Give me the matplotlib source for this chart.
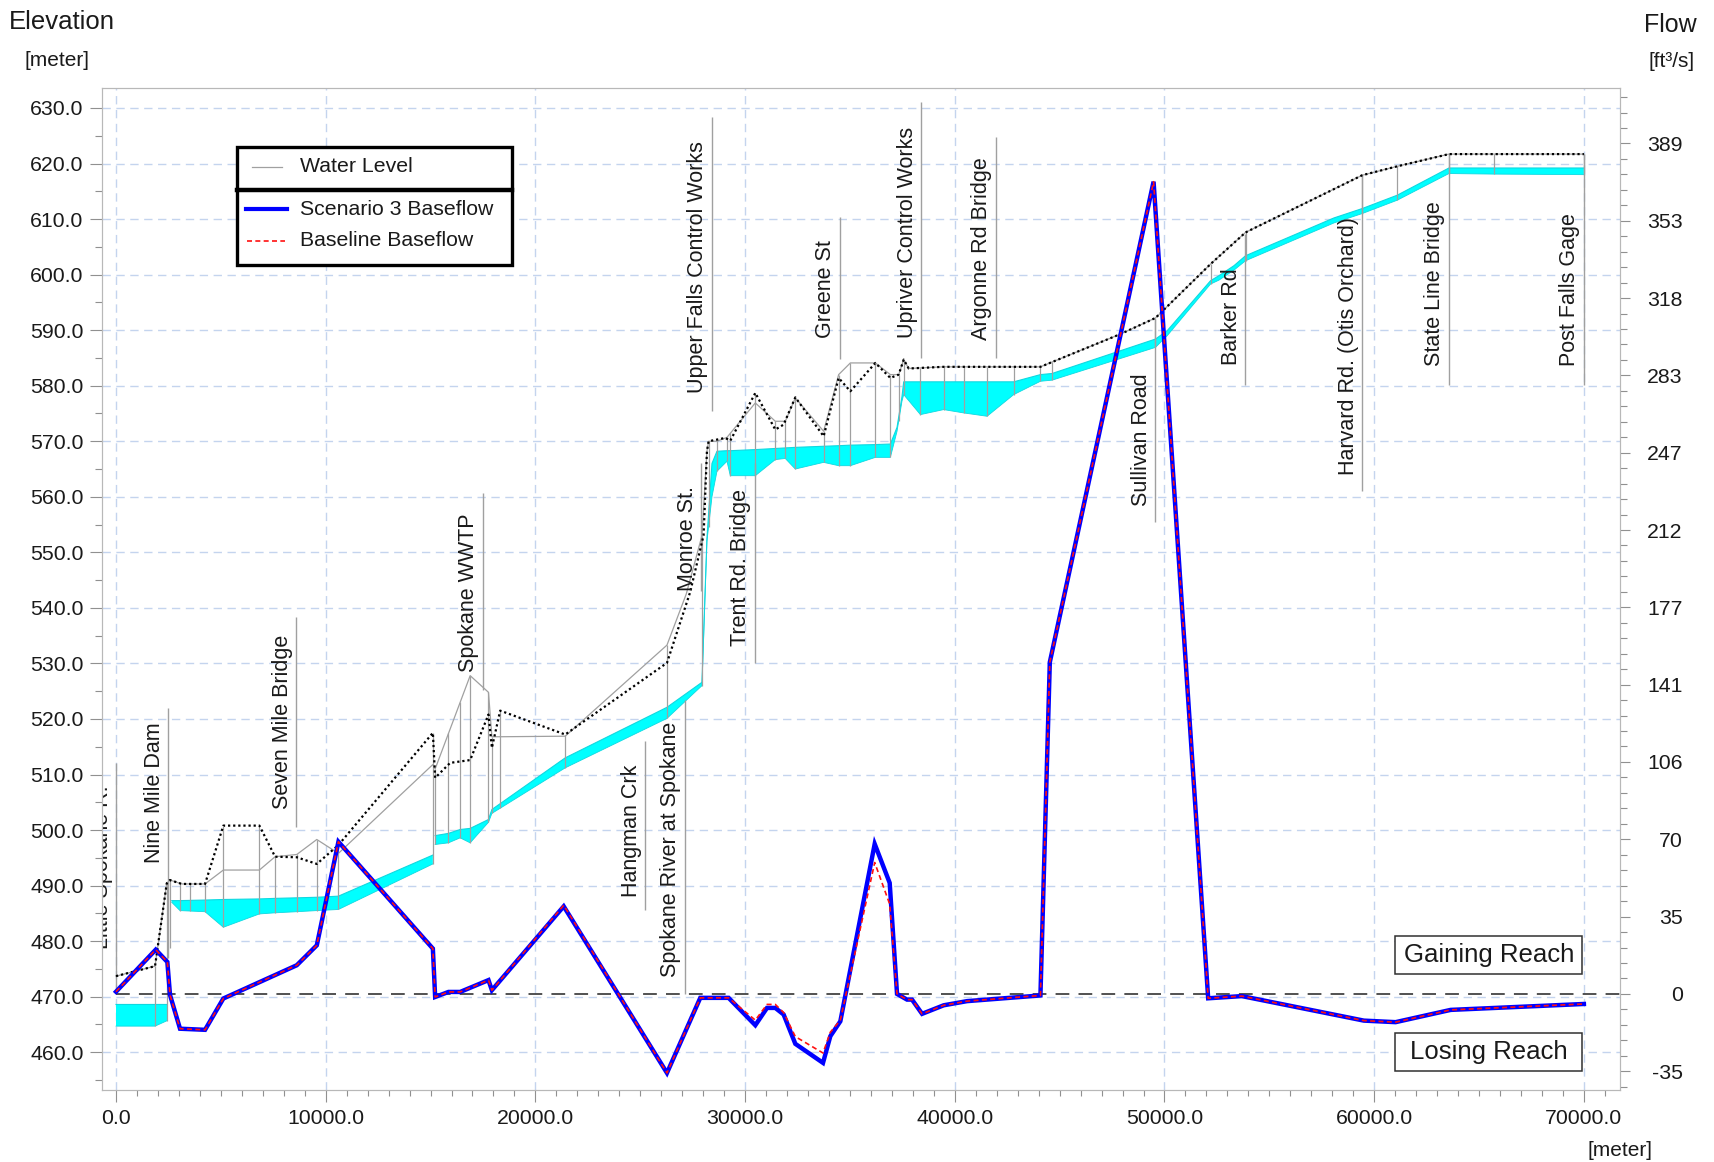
import numpy as np
import matplotlib
matplotlib.use("Agg")
import matplotlib.pyplot as plt
from matplotlib.patches import Rectangle
from matplotlib.ticker import MultipleLocator, FixedLocator

plt.rcParams['font.family'] = ['Liberation Sans', 'DejaVu Sans']

# ---------------- data ----------------
# top-of-section profile (dotted black)
bank_x = [0, 1861, 2419, 2576, 3133, 4246, 5119, 6838, 7586, 8621, 9575, 10606, 15110, 15219,
          15935, 16889, 17762, 17925, 18320, 21422, 26274, 27385, 28021, 28180, 28259, 29056,
          29294, 30487, 31440, 31837, 32395, 33745, 34461, 35019, 36212, 36927, 37325, 37563,
          37802, 39470, 44084, 47900, 49570, 52195, 53865, 59432, 61100, 63564, 70000]
bank_z = [473.7, 475.5, 490.4, 491.0, 490.3, 490.3, 500.8, 500.8, 495.2, 495.1, 493.9, 497.3,
          517.5, 509.4, 512.1, 512.6, 520.8, 514.8, 521.5, 517.2, 530.1, 542.9, 553.1, 568.2,
          570.0, 570.6, 570.1, 578.7, 572.1, 573.0, 577.9, 570.9, 581.4, 579.0, 584.1, 581.4,
          582.0, 584.7, 583.1, 583.4, 583.4, 589.3, 592.2, 601.9, 607.6, 617.9, 619.5, 621.7,
          621.7]

# water level line (thin grey)
wl_x = [0, 1861, 2419, 2576, 3133, 4246, 5119, 6838, 7586, 8621, 9575, 10606, 15110, 15219,
        16889, 17762, 17925, 18320, 21422, 26274, 27194, 27943, 28180, 28259, 28659, 29136,
        30487, 31440, 31917, 32395, 33745, 34461, 35019, 36212, 36927, 37325, 37563, 37802,
        39470, 44084, 47900, 49570, 52195, 53865, 59432, 61100, 63564, 70000]
wl_z = [473.7, 475.5, 490.4, 491.0, 490.3, 490.3, 492.8, 492.8, 495.2, 495.6, 498.3, 495.8,
        511.8, 511.0, 527.8, 524.8, 516.8, 516.8, 516.9, 533.3, 542.5, 553.0, 568.2, 570.0,
        570.0, 570.7, 576.9, 573.6, 573.6, 577.8, 571.8, 582.0, 584.1, 584.1, 582.0, 582.0,
        584.7, 583.1, 583.4, 583.4, 589.3, 592.2, 601.9, 607.6, 617.9, 619.5, 621.7, 621.7]

# cyan water body: surface and bed (NaN separates reaches)
nan = np.nan
river_x = [0, 1861, 2448, nan, 2657, 3053, 4246, 5119, 6838, 7586, 8621, 9575, 10606, 15110, nan,
           15219, 15854, 16412, 16889, 17762, 17925, 21422, 26274, 27943, 28180, 28420, 28659,
           29136, 29294, 30487, 31440, 31917, 32395, 33745, 34461, 35019, 36212, 36927, 37245,
           37480, 37563, 38360, 39470, 40426, 41540, 42810, 44084, 44640, 49570, 50128, 52195,
           52593, 53310, 53865, 58077, 59432, 61100, 63564, 65700, 70000]
river_top = [468.6, 468.6, 468.6, nan, 487.3, 487.3, 487.4, 487.5, 487.6, 487.7, 487.8, 487.9,
             488.1, 495.5, nan, 499.0, 499.4, 500.1, 500.3, 501.9, 503.7, 513.0, 522.1, 526.6,
             552.5, 566.0, 568.2, 568.3, 568.3, 568.5, 568.7, 568.8, 568.9, 569.1, 569.2, 569.3,
             569.4, 569.5, 572.5, 578.0, 580.7, 580.7, 580.7, 580.7, 580.7, 580.7, 582.0, 582.2,
             588.4, 589.9, 598.9, 599.8, 601.6, 603.4, 610.2, 611.9, 614.3, 619.2, 619.2, 619.2]
river_bed = [464.7, 464.7, 465.7, nan, 487.0, 485.5, 485.3, 482.5, 484.9, 485.1, 485.3, 485.5,
             485.7, 493.9, nan, 497.4, 497.7, 498.6, 497.7, 501.4, 503.0, 511.2, 520.1, 526.0,
             552.0, 560.0, 564.6, 566.4, 563.8, 563.8, 566.7, 566.9, 565.0, 566.2, 565.6, 565.6,
             567.1, 567.1, 571.8, 577.2, 578.4, 574.8, 575.7, 575.1, 574.5, 578.4, 580.8, 581.0,
             586.9, 589.0, 598.3, 599.0, 600.8, 602.5, 609.3, 611.0, 613.4, 618.2, 618.1, 618.0]

# cross-section chainages (grey verticals)
xsec_x = [1861, 2419, 2576, 3053, 3530, 4246, 5119, 6838, 7586, 8621, 9575, 10606, 15110, 15219,
          15854, 16412, 16889, 17762, 17925, 18320, 21422, 26274, 27943, 28259, 28659, 29136,
          29294, 30487, 31440, 31917, 32395, 33745, 34461, 35019, 36212, 36927, 37325, 37563,
          38360, 39470, 40426, 41540, 42810, 44084, 44640, 49570, 52195, 53865, 59432, 61100,
          63564, 65700, 70000]

# baseflow (ft3/s)
flow_x = [0, 1894, 2448, 2576, 3053, 4246, 5119, 8621, 9575, 10606, 15110, 15219, 15854, 16412,
          17762, 17925, 21350, 26274, 27863, 29213, 30487, 31045, 31440, 31837, 32395, 33715,
          34065, 34542, 36180, 36895, 37245, 37722, 37960, 38440, 39470, 40585, 44084, 44531,
          49479, 52083, 53690, 59509, 61021, 63645, 70000]
flow_scen3 = [1.0, 20.2, 14.6, -0.5, -15.9, -16.4, -2.1, 13.1, 22.2, 69.5, 20.7, -1.4, 0.9, 0.9,
              6.3, 1.7, 40.0, -36.1, -1.8, -1.8, -14.3, -6.4, -6.4, -9.4, -22.8, -31.5, -19.3,
              -12.5, 68.5, 50.7, 0.0, -2.6, -2.6, -9.1, -5.2, -3.3, -0.7, 151.5, 371.0, -2.0,
              -1.0, -12.2, -12.9, -7.3, -4.6]
flow_base = [1.0, 20.2, 14.6, -0.5, -15.9, -16.4, -2.1, 13.1, 22.2, 69.5, 20.7, -1.4, 0.9, 0.9,
             6.3, 1.7, 40.5, -36.1, -1.8, -1.8, -12.0, -4.8, -4.8, -8.5, -19.5, -27.0, -17.5,
             -12.0, 60.0, 41.0, 0.0, -2.6, -2.6, -9.1, -5.2, -3.3, -0.7, 151.5, 371.0, -2.0,
             -1.0, -12.2, -12.9, -7.3, -4.6]

# named locations
loc_names = ["Little Spokane R.", "Nine Mile Dam", "Seven Mile Bridge", "Spokane WWTP",
             "Hangman Crk", "Spokane River at Spokane", "Monroe St.", "Trent Rd. Bridge",
             "Upper Falls Control Works", "Greene St", "Upriver Control Works",
             "Argonne Rd Bridge", "Sullivan Road", "Barker Rd", "Harvard Rd. (Otis Orchard)",
             "State Line Bridge", "Post Falls Gage"]
loc_x = [0, 2500, 8600, 17480, 25250, 27120, 27900, 30450, 28410, 34520, 38400, 41950, 49570,
         53850, 59440, 63560, 70000]
loc_text_z = [478.5, 494.0, 503.8, 528.4, 488.0, 473.6, 543.0, 533.2, 578.7, 588.6, 588.6,
              588.2, 558.4, 583.8, 563.9, 583.5, 583.5]
loc_line_top = [512.0, 522.0, 538.3, 560.6, 516.0, 523.5, 566.0, 566.0, 628.4, 610.3, 631.0,
                624.7, 592.0, 607.4, 617.9, 621.7, 621.7]
loc_line_bot = [471.0, 477.0, 500.5, 525.3, 485.6, 470.5, 543.0, 530.0, 575.4, 584.8, 585.0,
                585.0, 555.5, 580.2, 561.0, 580.2, 580.2]

x_ticks = [0, 10000, 20000, 30000, 40000, 50000, 60000, 70000]
elev_ticks = [460, 470, 480, 490, 500, 510, 520, 530, 540, 550, 560, 570, 580, 590, 600, 610,
              620, 630]
flow_unit = 35.3147
flow_tick_steps = [-1, 0, 1, 2, 3, 4, 5, 6, 7, 8, 9, 10, 11]
flow_tick_labels = ["-35", "0", "35", "70", "106", "141", "177", "212", "247", "283", "318",
                    "353", "389"]

# ---------------- figure ----------------
W, H = 1715, 1162
fig = plt.figure(figsize=(W / 100, H / 100), dpi=100)
L, R, T, B = 102, 1620, 88, 1090
ax = fig.add_axes([L / W, 1 - B / H, (R - L) / W, (B - T) / H])
ax2 = ax.twinx()

XLIM = (-668, 71722)
YLIM = (453.2, 633.6)
ZERO_ELEV = 470.5
M_PER_UNIT = 13.92
FLIM = ((YLIM[0] - ZERO_ELEV) * flow_unit / M_PER_UNIT, (YLIM[1] - ZERO_ELEV) * flow_unit / M_PER_UNIT)

TXT = '#1a1a1a'
GREY = '#a0a0a0'

# water body
ax.fill_between(river_x, river_bed, river_top, color='#00ffff', lw=0, zorder=2)
ax.plot(river_x, river_top, color='#10d8e0', lw=0.8, zorder=2.1)
ax.plot(river_x, river_bed, color='#10d8e0', lw=0.6, zorder=2.1)

# cross-section verticals
rx = np.array(river_x, dtype=float)
rb = np.array(river_bed, dtype=float)
ok = ~np.isnan(rx)
bed_at = np.interp(xsec_x, rx[ok], rb[ok])
top_at = np.maximum(np.interp(xsec_x, bank_x, bank_z), np.interp(xsec_x, wl_x, wl_z))
ax.vlines(xsec_x, bed_at, top_at, color=GREY, lw=0.9, zorder=3)

ax.plot(wl_x, wl_z, color=GREY, lw=0.9, zorder=3.2)
ax.plot(bank_x, bank_z, color='black', lw=1.6, linestyle=(0, (1, 1.3)), zorder=4)

# location markers
ax.vlines(loc_x, loc_line_bot, loc_line_top, color=GREY, lw=1.0, zorder=3.5)
for name, x, z in zip(loc_names, loc_x, loc_text_z):
    ax.annotate(name, (x, z), xytext=(-2.5, 0), textcoords='offset points', rotation=90,
                ha='right', va='bottom', fontsize=15.5, color=TXT, zorder=5, clip_on=True)

# grid / ticks left & bottom
ax.set_xticks(x_ticks)
ax.set_xticklabels([f"{v:.1f}" for v in x_ticks])
ax.xaxis.set_minor_locator(MultipleLocator(1000))
ax.set_yticks(elev_ticks)
ax.set_yticklabels([f"{v:.1f}" for v in elev_ticks])
ax.yaxis.set_minor_locator(MultipleLocator(5))
ax.grid(True, which='major', color='#c4d4ee', linestyle=(0, (6, 4)), lw=1.0, zorder=0)
ax.tick_params(axis='both', which='both', direction='out', colors='#909090',
               labelcolor=TXT, labelsize=15.3)
ax.tick_params(axis='y', which='major', length=8.4, pad=5, width=0.8)
ax.tick_params(axis='y', which='minor', length=4.8, width=0.8)
ax.tick_params(axis='x', which='major', length=8.4, pad=5, width=0.8)
ax.tick_params(axis='x', which='minor', length=4.3, width=0.8)

for a in (ax, ax2):
    for s in a.spines.values():
        s.set_color('#b8b8b8')
        s.set_linewidth(0.8)

# flows
ax2.plot([0, XLIM[1]], [0, 0], color='#222222', lw=1.1, linestyle=(0, (9, 6)), zorder=3)
ax2.plot(flow_x, flow_scen3, color='#0000ff', lw=3.2, zorder=4, solid_joinstyle='miter')
ax2.plot(flow_x, flow_base, color='#ff1010', lw=1.2, linestyle=(0, (3, 2)), zorder=5)

ax2.yaxis.set_major_locator(FixedLocator([k * flow_unit for k in flow_tick_steps]))
ax2.set_yticklabels(flow_tick_labels)
ax2.yaxis.set_minor_locator(MultipleLocator(flow_unit / 5))
ax2.tick_params(axis='y', which='both', direction='out', colors='#909090',
                labelcolor=TXT, labelsize=15.3)
ax2.tick_params(axis='y', which='major', length=7.2, pad=38, width=0.8)
ax2.tick_params(axis='y', which='minor', length=4.8, width=0.8)
for lab in ax2.get_yticklabels():
    lab.set_horizontalalignment('right')

# legend (custom two-part box)
tA = ax2.transAxes
lx0, lx1 = 0.0888, 0.2704
ly0, lmid, ly1 = 0.8234, 0.898, 0.9414
ax2.add_patch(Rectangle((lx0, ly0), lx1 - lx0, ly1 - ly0, transform=tA, facecolor='white',
                        edgecolor='black', lw=2.4, zorder=20, clip_on=False))
ax2.plot([lx0, lx1], [lmid, lmid], transform=tA, color='black', lw=3.2, zorder=21)
ax2.plot([0.0987, 0.1186], [0.9215, 0.9215], transform=tA, color=GREY, lw=0.9, zorder=21)
ax2.plot([0.0947, 0.1222], [0.879, 0.879], transform=tA, color='#0000ff', lw=3.0, zorder=21)
ax2.plot([0.0958, 0.1203], [0.8476, 0.8476], transform=tA, color='#ff1010', lw=1.2,
         linestyle=(0, (3, 2)), zorder=21)
for ty, lab in [(0.9215, 'Water Level'), (0.879, 'Scenario 3 Baseflow'),
                (0.8476, 'Baseline Baseflow')]:
    ax2.text(0.1304, ty, lab, transform=tA, va='center', ha='left', fontsize=15.3,
             color=TXT, zorder=22)

# gaining / losing boxes
for (y0, y1, txt) in [(0.1158, 0.1537, 'Gaining Reach'), (0.0190, 0.0572, 'Losing Reach')]:
    ax2.add_patch(Rectangle((0.8518, y0), 0.9752 - 0.8518, y1 - y0, transform=tA,
                            facecolor='white', edgecolor='#303030', lw=1.1, zorder=20))
    ax2.text((0.8518 + 0.9752) / 2, (y0 + y1) / 2, txt, transform=tA, ha='center',
             va='center', fontsize=18.5, color=TXT, zorder=21)

# axis titles
def fp(x, y):
    return x / W, 1 - y / H

fig.text(*fp(9, 29), 'Elevation', fontsize=18.5, color=TXT, va='baseline', ha='left')
fig.text(*fp(25, 66), '[meter]', fontsize=15, color=TXT, va='baseline', ha='left')
fig.text(*fp(1697, 32), 'Flow', fontsize=18, color=TXT, va='baseline', ha='right')
fig.text(*fp(1695, 67), '[ft\u00b3/s]', fontsize=15, color=TXT, va='baseline', ha='right')
fig.text(*fp(1620, 1151), '[meter]', fontsize=15, color=TXT, va='center', ha='center')

ax.set_xlim(*XLIM)
ax.set_ylim(*YLIM)
ax2.set_ylim(*FLIM)
ax2.set_xlim(*XLIM)

fig.savefig('out.png', dpi=100, facecolor='white')
